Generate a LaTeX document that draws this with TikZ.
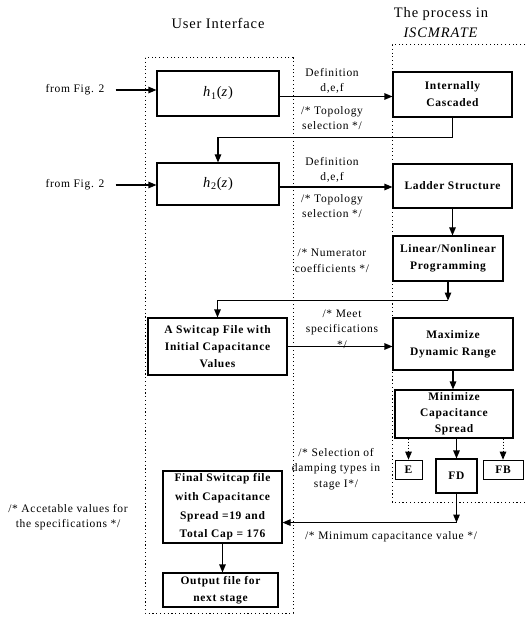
\documentclass[tikz,border=0pt]{standalone}
\usepackage{fontspec}
\setmainfont{Liberation Serif}[LetterSpace=6]
\usepackage{tikz}
\usetikzlibrary{
  arrows.meta,
  positioning,
}
\tikzset{
  chart/.style = {
    x = 1pt,
    y = -1pt,
    >= {Triangle[length = 8pt, width = 6.5pt]}
  },
  dims/.style 2 args = {
    minimum width = #1pt,
    minimum height = #2pt
  },
  block/.style = {
    rectangle,
    draw = black,
    line width = 1.1pt,
    align = center,
    inner sep = 0pt,
    font = \fontsize{11.5}{17}\selectfont\bfseries
  },
  thinblock/.style = {
    block,
    line width = 0.6pt
  },
  note/.style = {
    align = center,
    inner sep = 0pt,
    font = \fontsize{11.5}{15.5}\selectfont
  },
  heading/.style = {
    align = center,
    inner sep = 0pt,
    font = \fontsize{14.5}{20}\selectfont
  },
  frame/.style = {
    line width = 1pt,
    dash pattern = on 1.1pt off 2.7pt
  },
  line/.style = {
    ->,
    line width = 1.1pt
  },
  weak/.style = {
    ->,
    line width = 0.9pt,
    dash pattern = on 1.5pt off 1.5pt
  },
}
\newcommand{\mathbox}{\fontsize{14.5}{17}\selectfont}
\newcommand{\hz}[1]{\textit{h}\textsubscript{#1}(\textit{z})}

\begin{document}
\begin{tikzpicture}[chart]
  \useasboundingbox (0,0) rectangle (525,617);
  % frames
  \draw[frame] (145,58) rectangle (293,613);
  \draw[frame] (525,45) -- (392,45) -- (392,502) -- (525,502);

  \node[heading] (ui) at (218,23) {User Interface};
  \node[heading] (proc) at (441,23) {The process in\\\textit{ISCMRATE}};

  % user interface column
  \node[note] (from1) at (75,90) {from Fig. 2};
  \node[note] (from2) at (75,185) {from Fig. 2};
  \node[block, dims = {122}{45}, font = \mathbox] (h1) at (218,93.5) {\hz{1}};
  \node[block, dims = {122}{42}, font = \mathbox] (h2) at (218,184) {\hz{2}};
  \node[block, dims = {139}{57}] (swcap) at (217.5,346.5)
    {A Switcap File with\\Initial Capacitance\\Values};
  \node[block, dims = {119}{72}, font = \fontsize{11.5}{18.7}\selectfont\bfseries] (final) at (222.5,507)
    {Final Switcap file\\with Capacitance\\Spread =19 and\\Total Cap = 176};
  \node[block, dims = {115}{34}] (outfile) at (220.5,590) {Output file for\\next stage};

  % ISCMRATE column
  \node[block, dims = {119}{45}] (casc) at (452.5,94.5) {Internally\\Cascaded};
  \node[block, dims = {119}{44}] (ladder) at (452.5,186) {Ladder Structure};
  \node[block, dims = {110}{45}] (linprog) at (448,258.5) {Linear/Nonlinear\\Programming};
  \node[block, dims = {120}{52}] (maxdr) at (453,344) {Maximize\\Dynamic Range};
  \node[block, dims = {118}{48}, font = \fontsize{11.5}{16}\selectfont\bfseries] (mincs) at (454,414)
    {Minimize\\Capacitance\\Spread};
  \node[thinblock, dims = {27}{19}] (e) at (408.5,469.5) {E};
  \node[block, dims = {41}{34}] (fd) at (456.5,476) {FD};
  \node[thinblock, dims = {40}{19}] (fb) at (503,469.5) {FB};

  % notes
  \node[note] (def1) at (332,81) {Definition\\d,e,f};
  \node[note] (top1) at (332,118) {/* Topology\\selection */};
  \node[note] (def2) at (332,170) {Definition\\d,e,f};
  \node[note] (top2) at (332,206) {/* Topology\\selection */};
  \node[note] (numer) at (332,261) {/* Numerator\\coefficients */};
  \node[note] (meet) at (342,329) {/* Meet\\specifications\\*/};
  \node[note] (damp) at (336,469) {/* Selection of\\damping types in\\stage I*/};
  \node[note] (minval) at (391,537) {/* Minimum capacitance value */};
  \node[note] (accept) at (68,517) {/* Accetable values for\\the specifications */};

  % connectors
  \draw[line] ([xshift = 11pt]from1.east) -- (from1 -| h1.west);
  \draw[line] ([xshift = 11pt]from2.east) -- (from2 -| h2.west);
  \draw[line] ([yshift = -3pt]h1.east) -- ([yshift = -3pt]h1.east -| casc.west);
  \draw[line] (casc.south) -- ++(0,20) -| (h2.north);
  \draw[line] ([yshift = -3pt]h2.east) -- ([yshift = -3pt]h2.east -| ladder.west);
  \draw[line] (ladder.south) -- (ladder.south |- linprog.north);
  \draw[line] (linprog.south) -- ++(0,19) coordinate (b1);
  \draw[line] (b1) -| (swcap.north);
  \draw[line] (swcap.east) -- (swcap.east -| maxdr.west);
  \draw[line] (maxdr.south) -- (maxdr.south |- mincs.north);
  \draw[weak] (mincs.south -| e) -- (e.north);
  \draw[line] (mincs.south -| fd) -- (fd.north);
  \draw[weak] (mincs.south -| fb) -- (fb.north);
  \draw[line] (fd.south) -- ++(0,29) coordinate (b2);
  \draw[line] (b2) -- (b2 -| final.east);
  \draw[line] (final.south) -- (final.south |- outfile.north);
\end{tikzpicture}
\end{document}
